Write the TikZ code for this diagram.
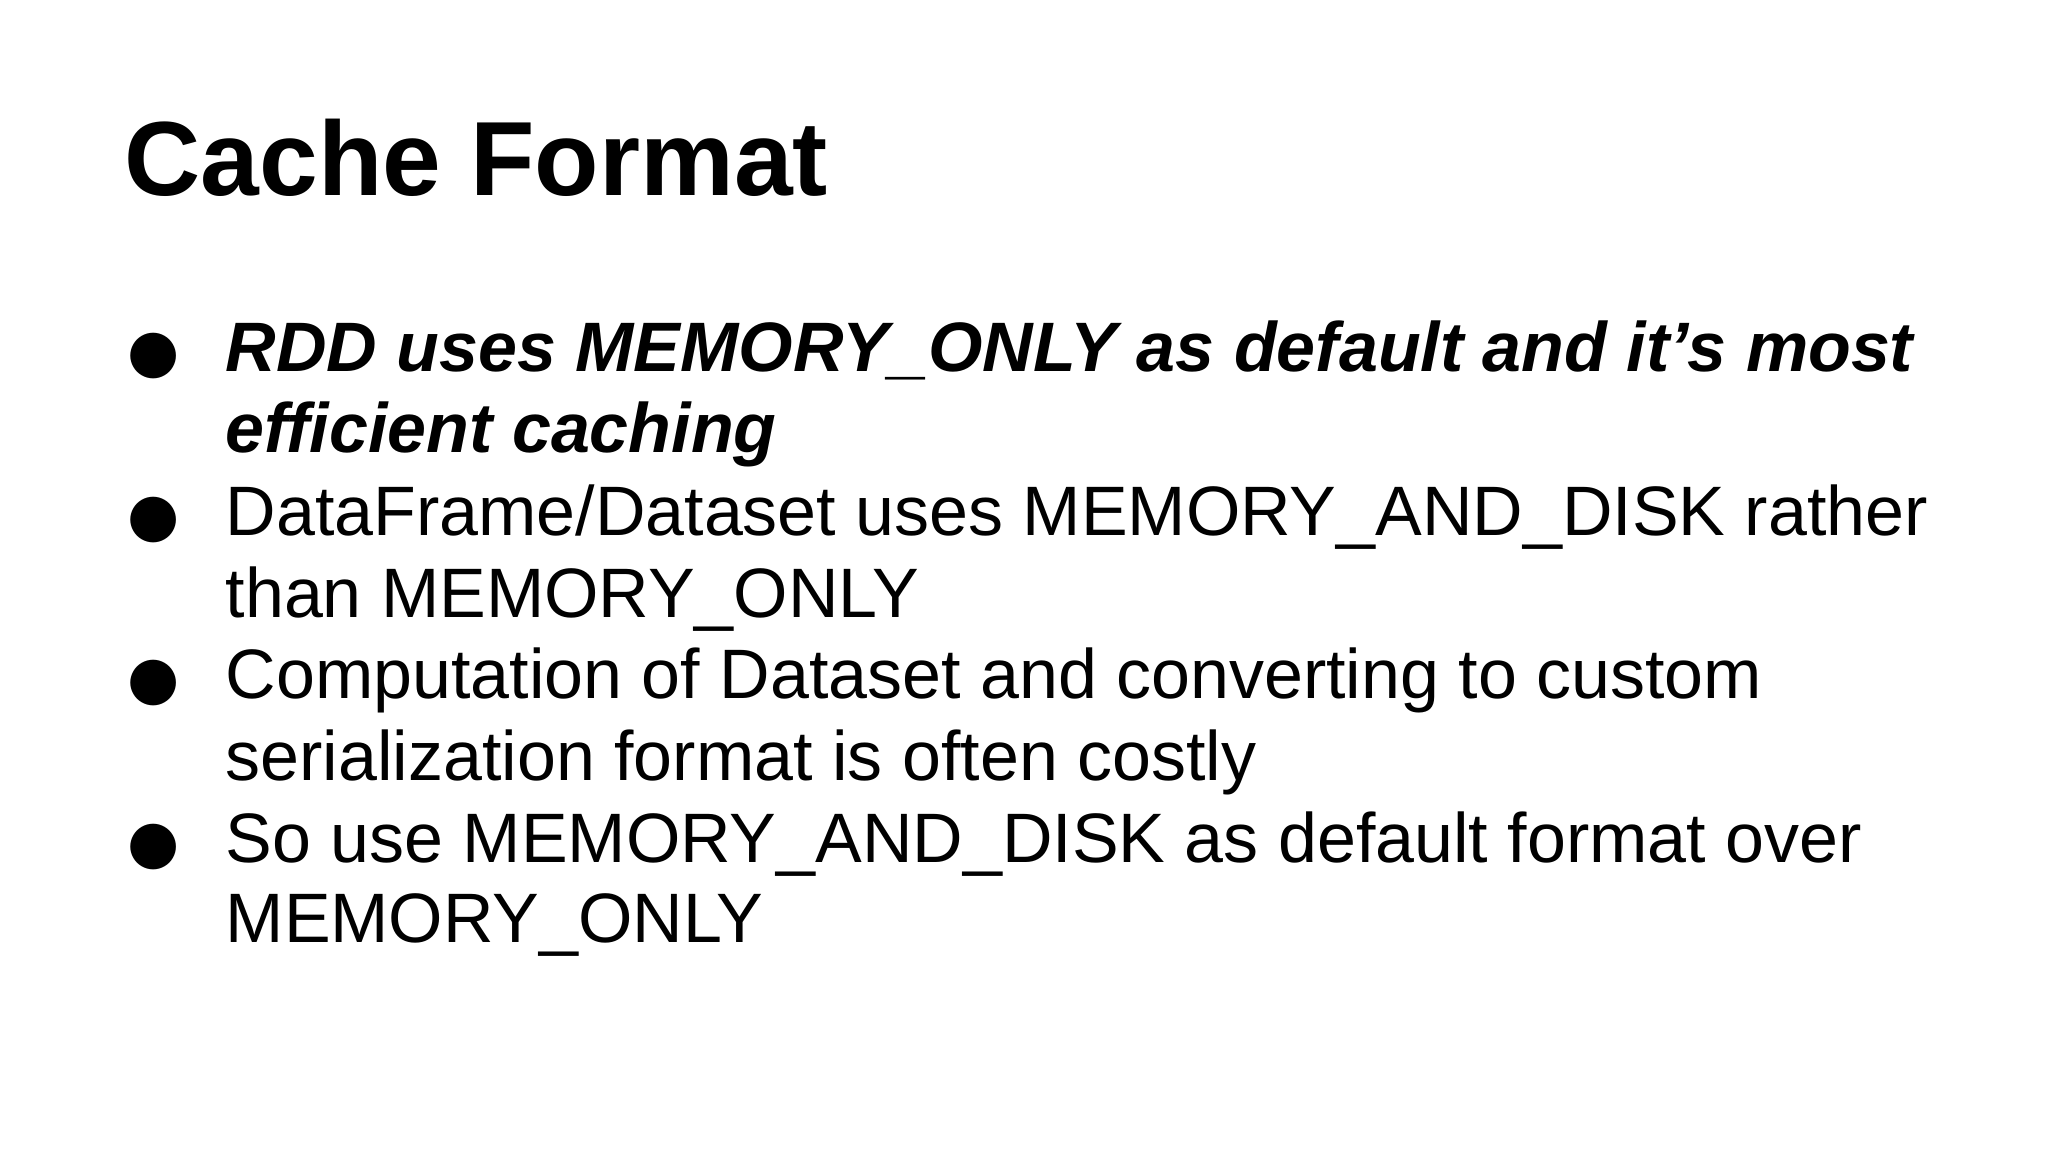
\documentclass[tikz,border=0pt]{standalone}
\usepackage{fontspec}
\setmainfont{Liberation Sans}
\newfontfamily\bulfont{DejaVu Sans}
\begin{document}
\begin{tikzpicture}[x=0.01cm,y=-0.01cm,
  txt/.style={anchor=base west,inner sep=0pt,font=\fontsize{19.9pt}{23pt}\selectfont},
  bul/.style={anchor=base,inner sep=0pt,font=\bulfont\fontsize{17pt}{20pt}\selectfont}]
\useasboundingbox[fill=white] (0,0) rectangle (2048,1152);
\node[anchor=base west,inner sep=0pt,font=\fontsize{30pt}{34pt}\selectfont\bfseries] (title) at (124,196) {Cache Format};
\node[bul] (b1) at (154,372) {●};
\node[txt,font=\fontsize{19.9pt}{23pt}\selectfont\bfseries\itshape] (l1) at (225,372) {RDD uses MEMORY\_ONLY as default and it’s most};
\node[txt,font=\fontsize{19.9pt}{23pt}\selectfont\bfseries\itshape] (l2) at (225,453) {efficient caching};
\node[bul] (b2) at (154,535) {●};
\node[txt] (l3) at (225,535) {DataFrame/Dataset uses MEMORY\_AND\_DISK rather};
\node[txt] (l4) at (225,617) {than MEMORY\_ONLY};
\node[bul] (b3) at (154,698) {●};
\node[txt] (l5) at (225,698) {Computation of Dataset and converting to custom};
\node[txt] (l6) at (225,780) {serialization format is often costly};
\node[bul] (b4) at (154,862) {●};
\node[txt] (l7) at (225,862) {So use MEMORY\_AND\_DISK as default format over};
\node[txt] (l8) at (225,942) {MEMORY\_ONLY};
\end{tikzpicture}
\end{document}
